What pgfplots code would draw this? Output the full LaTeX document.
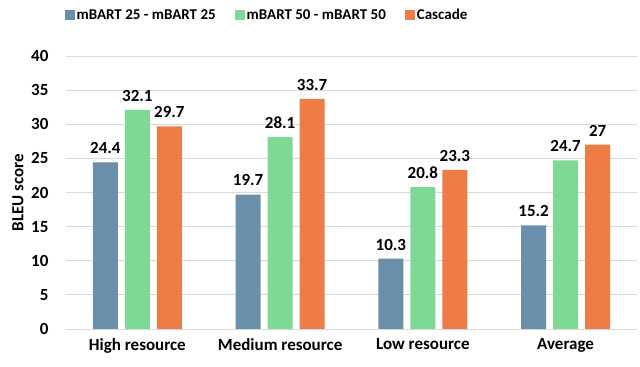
\documentclass[border=0pt]{standalone}
\usepackage{pgfplots}
\pgfplotsset{compat=1.18}
\usepackage{fontspec}
\setmainfont{Carlito}
\definecolor{mbblue}{HTML}{6A8FAB}
\definecolor{mbgreen}{HTML}{7ED995}
\definecolor{mborange}{HTML}{EE7C46}
\definecolor{gridgray}{HTML}{D9D9D9}

\begin{document}
\begin{tikzpicture}
\path[use as bounding box] (0,0) rectangle (640bp,367bp);
\begin{axis}[
  at={(66bp,38bp)}, anchor=south west,
  scale only axis,
  width=571bp, height=273bp,
  ybar, bar width=25bp,
  xmin=-0.5, xmax=3.5,
  ymin=0, ymax=40,
  ytick={0,5,...,40},
  xtick={0,1,2,3},
  xticklabels={High resource,Medium resource,Low resource,Average},
  font=\fontsize{17bp}{20bp}\selectfont\bfseries,
  /pgf/number format/assume math mode=true,
  ticklabel style={font=\fontsize{17bp}{20bp}\selectfont\bfseries},
  ylabel={BLEU score},
  ylabel style={at={(axis description cs:-0.084,0.5)}, anchor=center},
  axis x line*=bottom, axis y line*=left,
  x axis line style={draw=gridgray, line width=1bp, -},
  y axis line style={draw=none},
  major tick length=0pt,
  ymajorgrids, grid style={gridgray, line width=0.8bp},
  xtick style={draw=none}, ytick style={draw=none},
  yticklabel style={anchor=east, xshift=-14bp},
  xticklabel style={yshift=-6bp},
  nodes near coords,
  nodes near coords style={font=\fontsize{17bp}{20bp}\selectfont\bfseries, black, yshift=5bp},
  legend columns=3,
  legend style={at={(axis description cs:0.352,1.15)}, anchor=center, draw=none,
    font=\fontsize{15bp}{18bp}\selectfont\bfseries,
    /tikz/every even column/.append style={column sep=17bp}},
  legend image code/.code={\fill[#1] (0bp,-5bp) rectangle (10bp,5bp);},
  legend cell align=left,
]
\addplot[fill=mbblue, draw=none, bar shift=-32bp] coordinates {(0,24.4) (1,19.7) (2,10.3) (3,15.2)};
\addlegendentry{mBART 25 - mBART 25}
\addplot[fill=mbgreen, draw=none, bar shift=0bp] coordinates {(0,32.1) (1,28.1) (2,20.8) (3,24.7)};
\addlegendentry{mBART 50 - mBART 50}
\addplot[fill=mborange, draw=none, bar shift=32bp] coordinates {(0,29.7) (1,33.7) (2,23.3) (3,27)};
\addlegendentry{Cascade}
\end{axis}
\end{tikzpicture}
\end{document}
